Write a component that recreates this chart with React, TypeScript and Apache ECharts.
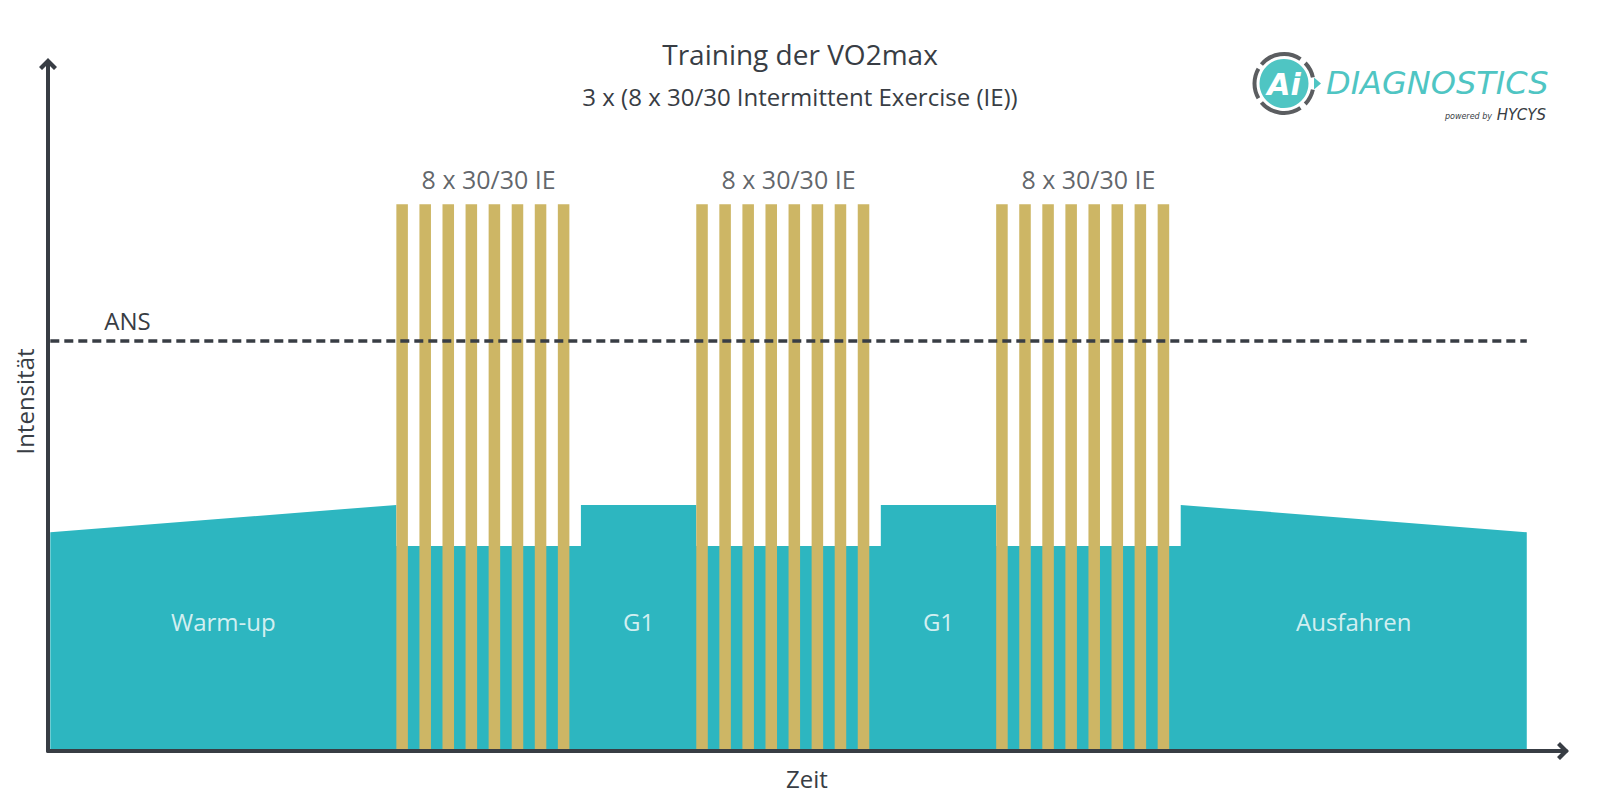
import { useEffect, useRef } from 'react';
import * as echarts from 'echarts';

const TEAL = '#2db6c0';
const GOLD = '#cdb665';
const INK = '#383d44';
const LOGO_TEAL = '#4fc5c3';
const LOGO_GREY = '#5b5d60';
const FONT = '"Open Sans", "Noto Sans", sans-serif';

// Outline of warm-up, recovery (G1) and cool-down blocks: time in minutes, intensity
const baseTime = [0, 15, 15, 23, 23, 28, 28, 36, 36, 41, 41, 49, 49, 64];
const baseIntensity = [32, 36, 30, 30, 36, 36, 30, 30, 36, 36, 30, 30, 36, 32];

// Start minute of every 30 s work bout
const boutStarts = [
  15, 16, 17, 18, 19, 20, 21, 22,
  28, 29, 30, 31, 32, 33, 34, 35,
  41, 42, 43, 44, 45, 46, 47, 48,
];
const boutIntensity = 80;
const boutLength = 0.5;

// Set labels above each block of bouts
const setNames = ['8 x 30/30 IE', '8 x 30/30 IE', '8 x 30/30 IE'];
const setCenters = [19, 32, 45];

// Phase labels inside the teal blocks
const phaseNames = ['Warm-up', 'G1', 'G1', 'Ausfahren'];
const phaseCenters = [7.5, 25.5, 38.5, 56.5];
const phaseLabelLevel = 19;

// Anaerobic threshold line
const ansLevel = 60;
const ansRange = [0, 64];

const chevron = 'path://M0,9 L9,0 L18,9 L15,12 L9,6 L3,12 Z';

function axisLineStyle(offsetEnd: number) {
  return {
    show: true,
    onZero: false,
    lineStyle: { color: INK, width: 4 },
    symbol: ['none', chevron],
    symbolSize: [18, 12],
    symbolOffset: [0, offsetEnd],
  };
}

const deg = (d: number) => (d * Math.PI) / 180;

function logoGraphics() {
  const cx = 1284;
  const cy = 83.5;
  const arcs = [
    [-140, -56],
    [-44, -12],
    [12, 44],
    [56, 140],
    [150, 210],
  ];
  const ring = arcs.map(([a, b]) => ({
    type: 'arc',
    shape: { cx, cy, r: 29.5, startAngle: deg(a), endAngle: deg(b) },
    style: { stroke: LOGO_GREY, lineWidth: 4, fill: null },
    silent: true,
  }));
  return [
    ...ring,
    {
      type: 'circle',
      shape: { cx, cy, r: 24.5 },
      style: { fill: LOGO_TEAL },
      silent: true,
    },
    {
      type: 'polygon',
      shape: { points: [[1314, 77.5], [1321, 83.5], [1314, 89.5]] },
      style: { fill: LOGO_TEAL },
      silent: true,
    },
    {
      type: 'text',
      x: cx,
      y: cy + 1,
      style: {
        text: 'Ai',
        fill: '#ffffff',
        font: 'italic bold 30px "DejaVu Sans", sans-serif',
        align: 'center',
        verticalAlign: 'middle',
      },
      silent: true,
    },
    {
      type: 'text',
      x: 1326,
      y: 83,
      style: {
        text: 'DIAGNOSTICS',
        fill: LOGO_TEAL,
        font: 'italic 32px "DejaVu Sans", sans-serif',
        align: 'left',
        verticalAlign: 'middle',
      },
      silent: true,
    },
    {
      type: 'text',
      x: 1492,
      y: 116,
      style: {
        text: 'powered by',
        fill: INK,
        font: 'italic 8px "DejaVu Sans", sans-serif',
        align: 'right',
        verticalAlign: 'middle',
      },
      silent: true,
    },
    {
      type: 'text',
      x: 1546,
      y: 115,
      style: {
        text: 'HYCYS',
        fill: INK,
        font: 'italic 15px "DejaVu Sans", sans-serif',
        align: 'right',
        verticalAlign: 'middle',
      },
      silent: true,
    },
  ];
}

export default function App() {
  const ref = useRef<HTMLDivElement>(null);

  useEffect(() => {
    if (!ref.current) return;
    const chart = echarts.init(ref.current, undefined, { renderer: 'svg' });

    const option: any = {
      animation: false,
      backgroundColor: '#ffffff',
      textStyle: { fontFamily: FONT },
      title: {
        text: 'Training der VO2max',
        subtext: '3 x (8 x 30/30 Intermittent Exercise (IE))',
        left: 'center',
        top: 40,
        padding: 0,
        itemGap: 16,
        textStyle: {
          fontFamily: FONT,
          fontSize: 28,
          lineHeight: 28,
          fontWeight: 'normal',
          color: INK,
        },
        subtextStyle: {
          fontFamily: FONT,
          fontSize: 24,
          lineHeight: 24,
          color: INK,
        },
      },
      grid: { left: 48, right: 34, top: 64, bottom: 49, containLabel: false },
      xAxis: {
        type: 'value',
        min: -0.1,
        max: 65.7,
        z: 10,
        axisLine: axisLineStyle(-3),
        axisTick: { show: false },
        axisLabel: { show: false },
        splitLine: { show: false },
        name: 'Zeit',
        nameLocation: 'middle',
        nameGap: 15,
        nameTextStyle: { fontFamily: FONT, fontSize: 24, lineHeight: 24, color: INK },
      },
      yAxis: {
        type: 'value',
        min: 0,
        max: 100.5,
        z: 10,
        axisLine: axisLineStyle(0),
        axisTick: { show: false },
        axisLabel: { show: false },
        splitLine: { show: false },
        name: 'Intensität',
        nameLocation: 'middle',
        nameGap: 12,
        nameRotate: 90,
        nameTextStyle: {
          fontFamily: FONT,
          fontSize: 24,
          lineHeight: 24,
          color: INK,
          padding: [0, 0, 0, 12],
        },
      },
      graphic: logoGraphics(),
      series: [
        {
          type: 'line',
          data: baseTime.map((t, i) => [t, baseIntensity[i]]),
          showSymbol: false,
          symbol: 'none',
          silent: true,
          z: 2,
          lineStyle: { width: 0, opacity: 0 },
          areaStyle: { color: TEAL, opacity: 1 },
        },
        {
          type: 'custom',
          z: 3,
          silent: true,
          data: boutStarts.map((s) => [s, boutIntensity]),
          encode: { x: 0, y: 1 },
          renderItem: (_params: any, api: any) => {
            const start = api.value(0);
            const topLeft = api.coord([start, api.value(1)]);
            const bottomRight = api.coord([start + boutLength, 0]);
            return {
              type: 'rect',
              shape: {
                x: topLeft[0],
                y: topLeft[1],
                width: bottomRight[0] - topLeft[0],
                height: bottomRight[1] - topLeft[1],
              },
              style: { fill: GOLD },
            };
          },
          markLine: {
            silent: true,
            symbol: ['none', 'none'],
            lineStyle: { color: INK, width: 3.5, type: [9, 5] },
            label: {
              show: true,
              formatter: 'ANS',
              position: 'insideStartTop',
              distance: [54, 8],
              fontFamily: FONT,
              fontSize: 24,
              lineHeight: 24,
              color: INK,
            },
            data: [[{ coord: [ansRange[0], ansLevel] }, { coord: [ansRange[1], ansLevel] }]],
          },
        },
        {
          type: 'scatter',
          z: 4,
          silent: true,
          symbolSize: 1,
          itemStyle: { color: 'transparent' },
          data: setCenters.map((c, i) => ({ value: [c, boutIntensity], name: setNames[i] })),
          label: {
            show: true,
            position: 'top',
            distance: 12,
            formatter: (p: any) => p.name,
            fontFamily: FONT,
            fontSize: 25,
            lineHeight: 25,
            color: INK,
          },
        },
        {
          type: 'scatter',
          z: 4,
          silent: true,
          symbolSize: 1,
          itemStyle: { color: 'transparent' },
          data: phaseCenters.map((c, i) => ({ value: [c, phaseLabelLevel], name: phaseNames[i] })),
          label: {
            show: true,
            position: 'inside',
            formatter: (p: any) => p.name,
            fontFamily: FONT,
            fontSize: 24,
            lineHeight: 24,
            color: '#ffffff',
          },
        },
      ],
    };

    chart.setOption(option);
    return () => chart.dispose();
  }, []);

  return (
    <div
      ref={ref}
      style={{ position: 'fixed', left: 0, top: 0, width: 1600, height: 800 }}
    />
  );
}
